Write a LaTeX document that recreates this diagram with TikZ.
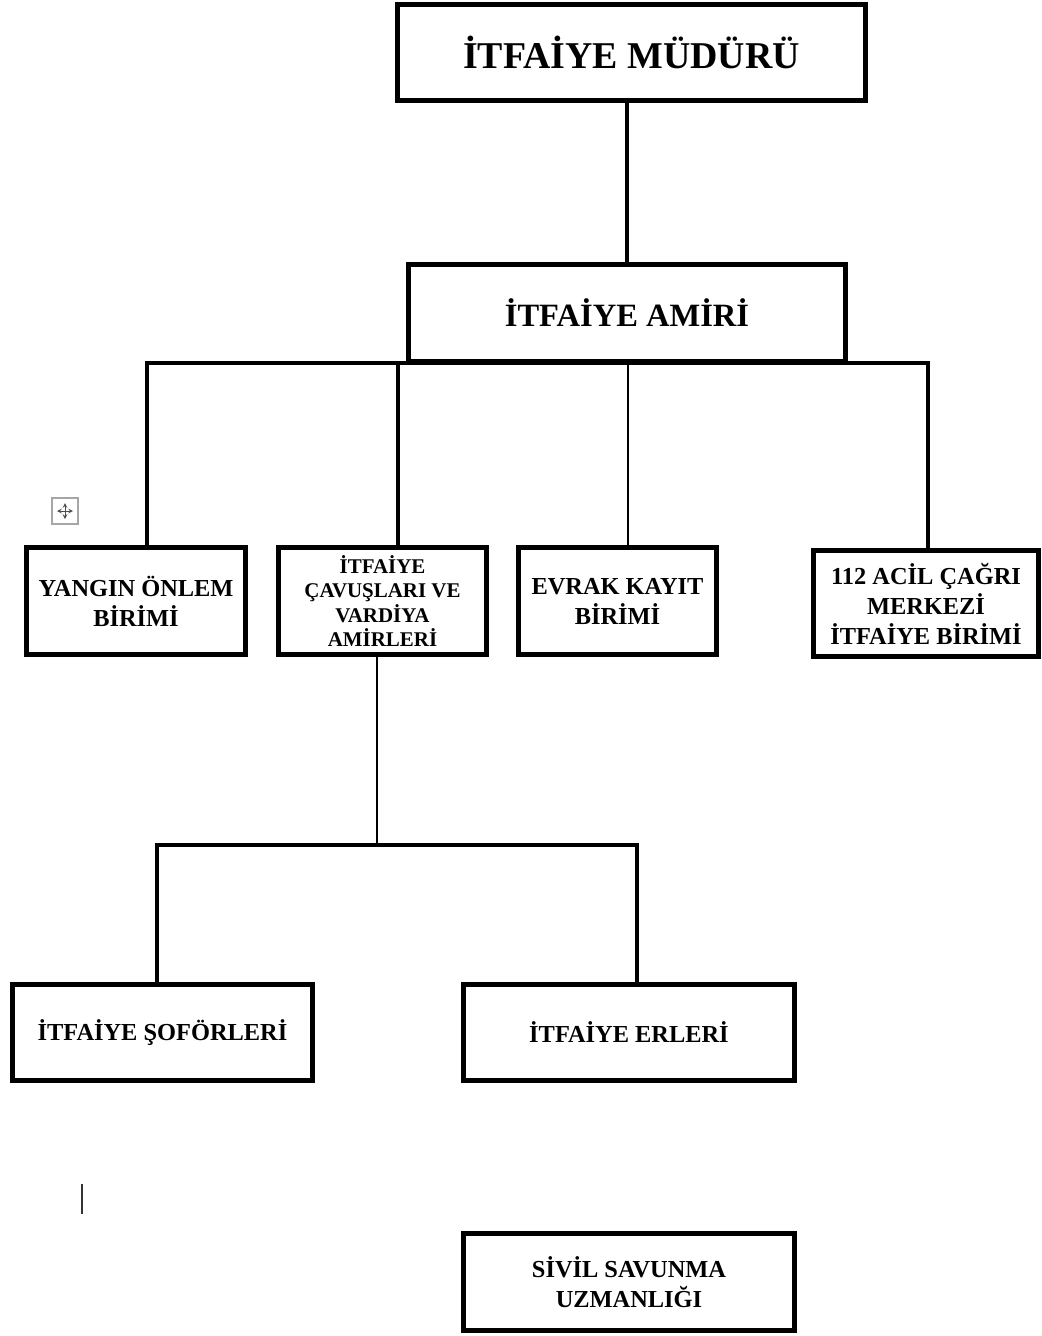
\documentclass[tikz,border=0pt]{standalone}
\usepackage{fontspec}
\setmainfont{Liberation Serif}
\begin{document}
\begin{tikzpicture}[x=0.75pt,y=-0.75pt,
  box/.style={draw=black,line width=3.6pt,fill=white,inner sep=0pt,align=center,font=\bfseries\fontsize{18.3pt}{22.5pt}\selectfont},
  conn/.style={draw=black,line width=2.3pt},
  thin/.style={draw=black,line width=1.6pt}]
\def\u{0.75pt}
\useasboundingbox (0,0) rectangle (1042,1336);
% connectors first (behind boxes)
\coordinate (bL) at (147,363);
\coordinate (b2) at (398,363);
\coordinate (b3) at (628,363);
\coordinate (bR) at (928,363);
\coordinate (c1) at (377,845);
\coordinate (cL) at (157,845);
\coordinate (cR) at (637,845);
% boxes
\node[box,minimum width=468*\u,minimum height=96*\u,font=\bfseries\fontsize{28.4pt}{32pt}\selectfont] (mud) at (631.5,52.5) {İTFAİYE MÜDÜRÜ};
\node[box,minimum width=437*\u,minimum height=97*\u,font=\bfseries\fontsize{24.4pt}{28pt}\selectfont] (amir) at (627,313) {İTFAİYE AMİRİ};
\node[box,minimum width=219*\u,minimum height=107*\u] (yangin) at (136,601) {YANGIN ÖNLEM\\BİRİMİ};
\node[box,minimum width=208*\u,minimum height=107*\u,font=\bfseries\fontsize{15.7pt}{18.3pt}\selectfont] (cavus) at (382.5,601) {İTFAİYE\\ÇAVUŞLARI VE\\VARDİYA\\AMİRLERİ};
\node[box,minimum width=198*\u,minimum height=107*\u] (evrak) at (617.5,601) {EVRAK KAYIT\\BİRİMİ};
\node[box,minimum width=225*\u,minimum height=106*\u] (acil) at (926,603.5) {112 ACİL ÇAĞRI\\MERKEZİ\\İTFAİYE BİRİMİ};
\node[box,minimum width=300*\u,minimum height=96*\u] (sofor) at (162.5,1032.5) {İTFAİYE ŞOFÖRLERİ};
\node[box,minimum width=331*\u,minimum height=96*\u] (erler) at (629,1032.5) {İTFAİYE ERLERİ};
\node[box,minimum width=331*\u,minimum height=97*\u] (sivil) at (629,1282) {SİVİL SAVUNMA\\UZMANLIĞI};
% connectors
\draw[conn,line width=2.8pt] (amir.north) -- (amir.north |- mud.south);
\draw[conn] (bL |- yangin.north) -- (bL) -- (bR) -- (bR |- acil.north);
\draw[conn] (b2) -- (b2 |- cavus.north);
\draw[thin] (b3) -- (b3 |- evrak.north);
\draw[thin] (c1 |- cavus.south) -- (c1);
\draw[conn] (cL |- sofor.north) -- (cL) -- (cR) -- (cR |- erler.north);
% table move handle
\node[draw=gray!70,line width=0.8pt,minimum width=26*\u,minimum height=26*\u,inner sep=0pt] (handle) at (65,511) {};
\draw[gray!60!black,line width=0.6pt,<->,>=stealth] ([yshift=-8*\u]handle.center) -- ([yshift=8*\u]handle.center);
\draw[gray!60!black,line width=0.6pt,<->,>=stealth] ([xshift=-8*\u]handle.center) -- ([xshift=8*\u]handle.center);
% text cursor
\coordinate (cur) at (82,1184);
\draw[black!80,line width=1.4pt] (cur) -- ++(0,30);
\end{tikzpicture}
\end{document}
